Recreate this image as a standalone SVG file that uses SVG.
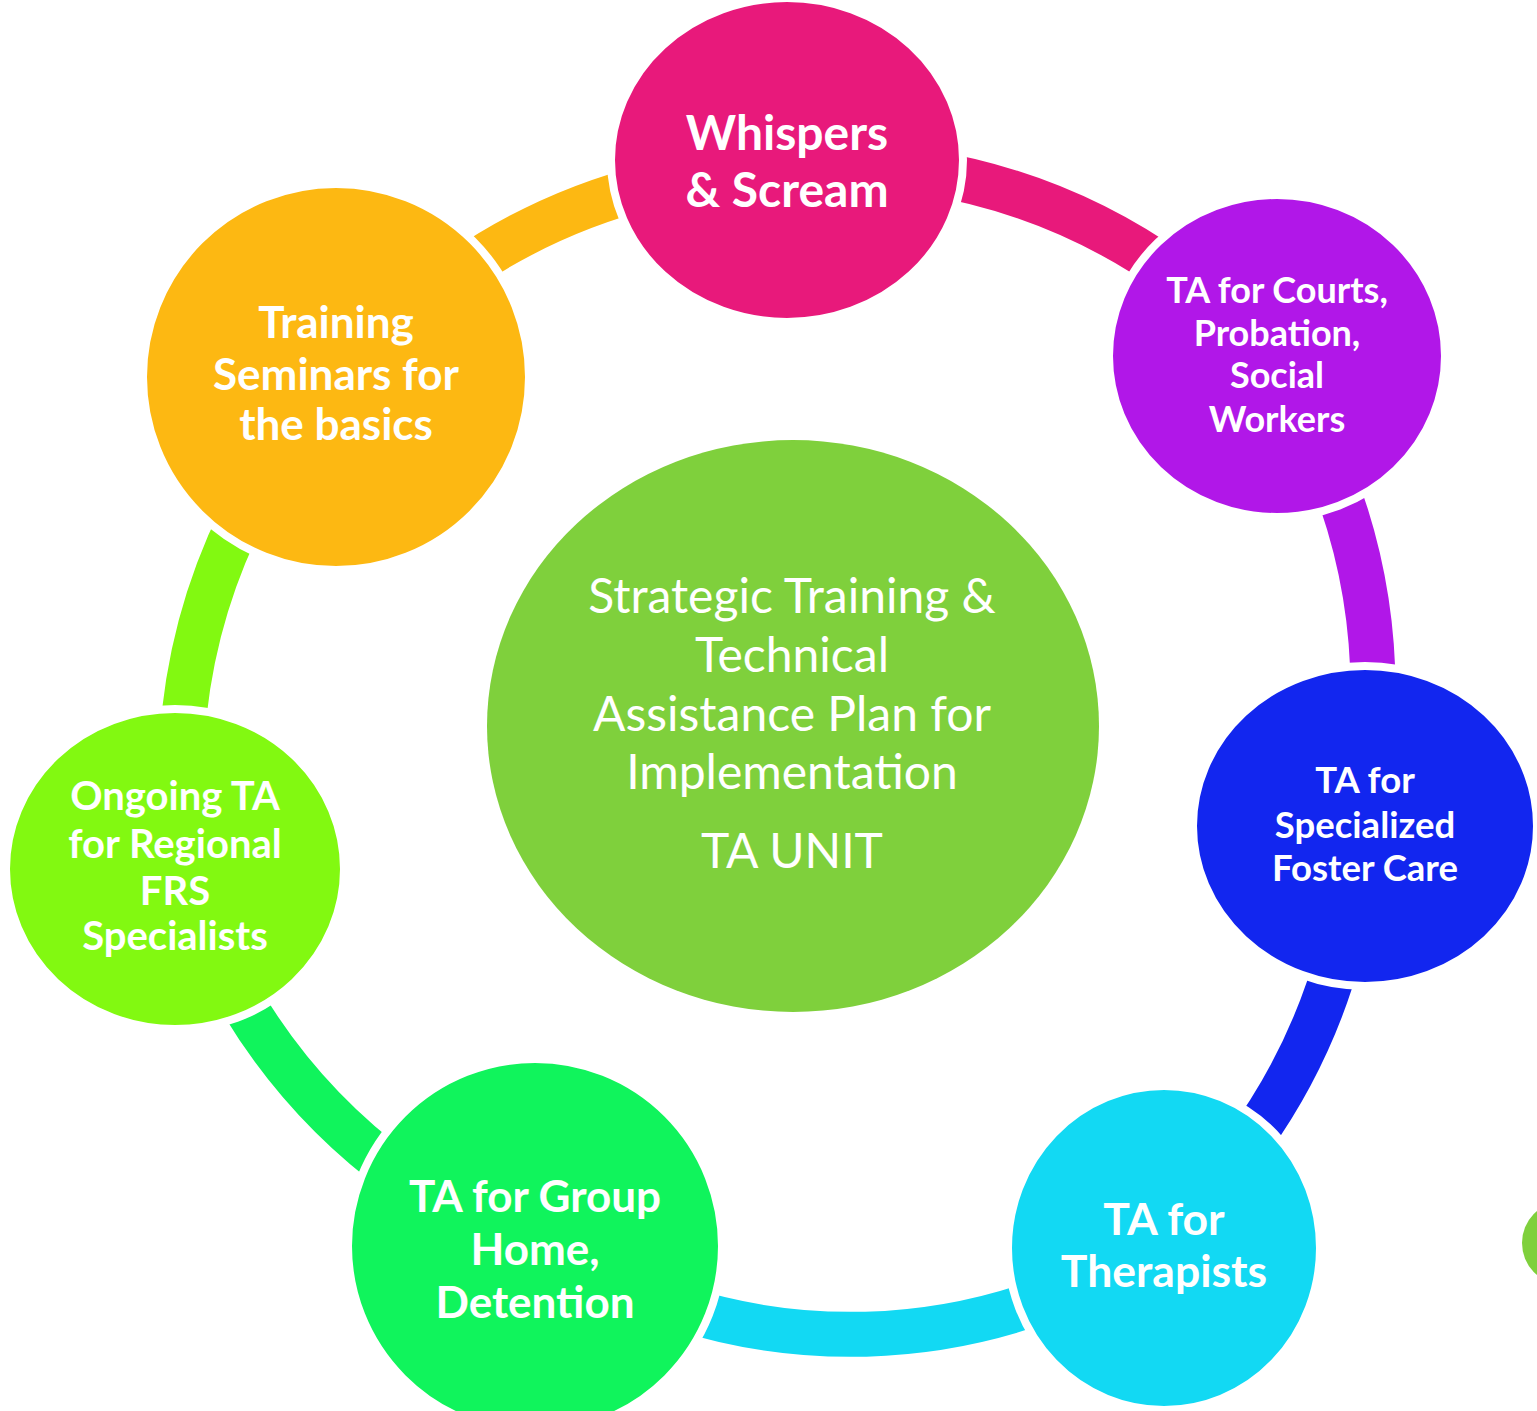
<svg xmlns="http://www.w3.org/2000/svg" width="1537" height="1411" viewBox="0 0 1537 1411">
<style>
.arc{fill:none;stroke-width:45;stroke-linecap:butt}
.node{stroke:#fff;stroke-width:8}
.lbl{font-family:Lato,"Open Sans","Liberation Sans",sans-serif;font-weight:bold;fill:#fff;text-anchor:middle}
.ctr{font-family:Lato,"Open Sans","Liberation Sans",sans-serif;fill:#fff;text-anchor:middle;font-size:48px}
</style>
<rect width="1537" height="1411" fill="#fff"/>
<g id="connectors">
<path class="arc" stroke="#FDB812" d="M460,272 A590,590 0 0 1 650,186"/>
<path class="arc" stroke="#E8197B" d="M925,172 A590,590 0 0 1 1175,275"/>
<path class="arc" stroke="#B117E8" d="M1330,470 A590,590 0 0 1 1373,700"/>
<path class="arc" stroke="#1226EF" d="M1340,950 A590,590 0 0 1 1243,1150"/>
<path class="arc" stroke="#12D9F3" d="M1050,1298 A565,565 0 0 1 680,1308"/>
<path class="arc" stroke="#10F45C" d="M400,1175 A590,590 0 0 1 235,990"/>
<path class="arc" stroke="#82F911" d="M182,740 A590,590 0 0 1 245,510"/>
</g>
<g id="center">
<ellipse cx="793" cy="726" rx="306" ry="286" fill="#7FD03C"/>
<text class="ctr"><tspan x="792" y="613">Strategic Training &amp;</tspan><tspan x="792" y="672">Technical</tspan><tspan x="792" y="731">Assistance Plan for</tspan><tspan x="792" y="789">Implementation</tspan><tspan x="792" y="868">TA UNIT</tspan></text>
</g>
<g id="whispers">
<ellipse class="node" cx="787" cy="160" rx="176" ry="162" fill="#E8197B"/>
<text class="lbl" font-size="48"><tspan x="787" y="150">Whispers</tspan><tspan x="787" y="207">&amp; Scream</tspan></text>
</g>
<g id="courts">
<ellipse class="node" cx="1277" cy="356" rx="168" ry="161" fill="#B117E8"/>
<text class="lbl" font-size="36"><tspan x="1277" y="303">TA for Courts,</tspan><tspan x="1277" y="346">Probation,</tspan><tspan x="1277" y="388">Social</tspan><tspan x="1277" y="432">Workers</tspan></text>
</g>
<g id="foster">
<ellipse class="node" cx="1365" cy="826" rx="172" ry="160" fill="#1226EF"/>
<text class="lbl" font-size="36.5"><tspan x="1365" y="793">TA for</tspan><tspan x="1365" y="838">Specialized</tspan><tspan x="1365" y="881">Foster Care</tspan></text>
</g>
<g id="therapists">
<ellipse class="node" cx="1164" cy="1248" rx="156" ry="162" fill="#12D9F3"/>
<text class="lbl" font-size="44.5"><tspan x="1164" y="1235">TA for</tspan><tspan x="1164" y="1287">Therapists</tspan></text>
</g>
<g id="grouphome">
<ellipse class="node" cx="535" cy="1246" rx="187" ry="187" fill="#10F45C"/>
<text class="lbl" font-size="44"><tspan x="535" y="1212">TA for Group</tspan><tspan x="535" y="1265">Home,</tspan><tspan x="535" y="1318">Detention</tspan></text>
</g>
<g id="ongoing">
<ellipse class="node" cx="175" cy="869" rx="169" ry="160" fill="#82F911"/>
<text class="lbl" font-size="40"><tspan x="175" y="810">Ongoing TA</tspan><tspan x="175" y="858">for Regional</tspan><tspan x="175" y="905">FRS</tspan><tspan x="175" y="950">Specialists</tspan></text>
</g>
<g id="training">
<ellipse class="node" cx="336" cy="377" rx="193" ry="193" fill="#FDB812"/>
<text class="lbl" font-size="44"><tspan x="336" y="338">Training</tspan><tspan x="336" y="390">Seminars for</tspan><tspan x="336" y="440">the basics</tspan></text>
</g>
<g id="edge-circle">
<ellipse cx="1562" cy="1243" rx="40" ry="41" fill="#7FD03C"/>
</g>
</svg>
